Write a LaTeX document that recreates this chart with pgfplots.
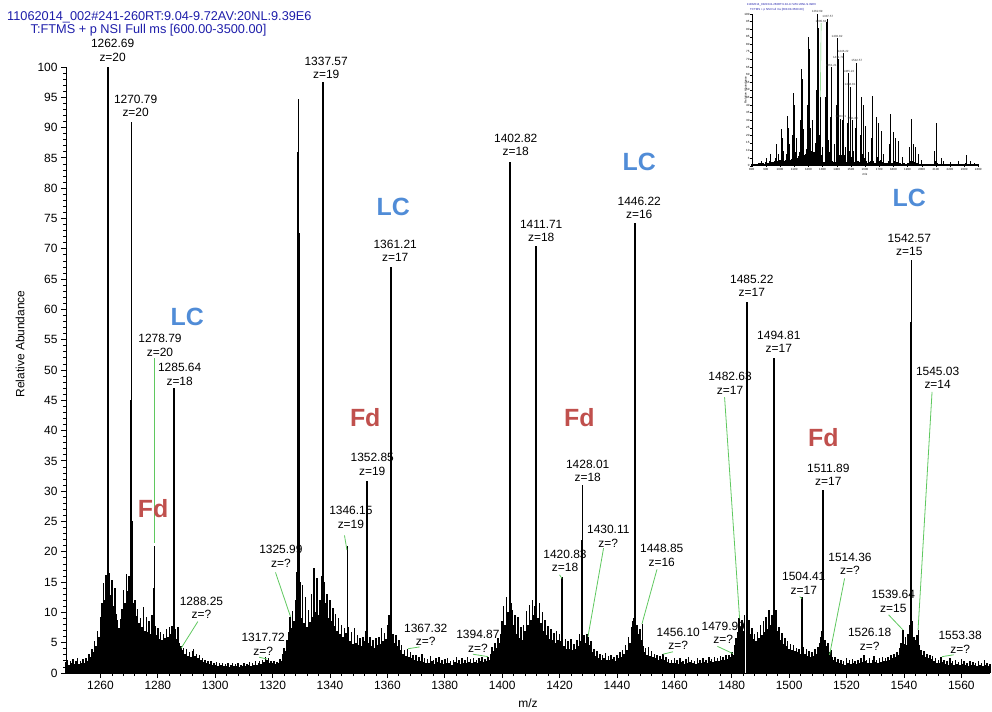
\documentclass[border=0pt]{standalone}
\usepackage{pgfplots}
\pgfplotsset{compat=1.18}
\usepackage{fontspec}
\setmainfont{Liberation Sans}
\definecolor{hdrblue}{RGB}{30,30,170}
\definecolor{lcblue}{RGB}{80,140,215}
\definecolor{fdred}{RGB}{192,80,77}
\definecolor{lgreen}{RGB}{95,200,95}
\tikzset{
 lab/.style={font=\fontsize{12}{13.5}\selectfont, align=center, anchor=south, inner sep=0pt},
 lc/.style={font=\bfseries\fontsize{25}{25}\selectfont, text=lcblue, inner sep=0pt},
 fd/.style={font=\bfseries\fontsize{25}{25}\selectfont, text=fdred, inner sep=0pt},
 gl/.style={draw=lgreen, line width=0.8bp},
 ilab/.style={font=\fontsize{3}{3.4}\selectfont, anchor=south, inner sep=0pt, text=black!80},
}
\begin{document}
\begin{tikzpicture}[x=1bp,y=1bp]
\useasboundingbox (0,0) rectangle (992,712);
\node[anchor=base west, text=hdrblue, font=\fontsize{12.8}{14}\selectfont, inner sep=0] at (7,691.5) {11062014\_002\#241-260RT:9.04-9.72AV:20NL:9.39E6};
\node[anchor=base west, text=hdrblue, font=\fontsize{12.8}{14}\selectfont, inner sep=0] at (30.5,678) {T:FTMS + p NSI Full ms [600.00-3500.00]};

\begin{axis}[
 at={(66bp,39bp)}, anchor=south west, scale only axis,
 width=924bp, height=606bp,
 xmin=1248, xmax=1570, ymin=0, ymax=100,
 axis x line*=bottom, axis y line*=left,
 axis line style={line width=0.8bp},
 xtick={1260,1280,...,1560}, minor x tick num=4,
 ytick={0,5,...,100}, minor y tick num=4,
 tick align=outside, major tick length=5bp, minor tick length=3bp,
 tick style={black, line width=0.8bp},
 tick label style={font=\fontsize{12}{14}\selectfont, /pgf/number format/assume math mode=true},
 xticklabel style={/pgf/number format/1000 sep={}},
 xlabel={m/z}, ylabel={Relative Abundance},
 every axis x label/.style={at={(axis description cs:0.5,-0.0495)}, anchor=center, font=\fontsize{12}{14}\selectfont},
 every axis y label/.style={at={(axis description cs:-0.0498,0.543)}, anchor=center, rotate=90, font=\fontsize{12}{14}\selectfont},
 clip=false,
]
% noise / unresolved background
\addplot[ycomb, black, line width=1.5bp, mark=none] coordinates {
(1248.0,1.8)(1248.5,2.2)(1249.0,1.4)(1249.5,2.0)(1250.0,1.6)(1250.5,2.3)(1251.0,1.5)(1251.5,1.9)(1252.0,2.4)(1252.5,1.5)(1253.0,2.0)(1253.5,1.7)(1254.0,2.3)(1254.5,1.6)(1255.0,2.5)(1255.5,1.9)
(1256.0,3.2)(1256.5,2.6)(1257.0,4.0)(1257.5,3.4)(1258.0,5.2)(1258.5,4.4)(1259.0,7.0)(1259.5,6.0)(1260.0,9.3)
(1260.5,11.5)(1261.0,14.8)(1261.5,12.0)(1262.0,16.2)(1262.5,13.0)(1263.0,16.5)(1263.5,12.8)(1264.0,15.3)(1264.5,11.0)(1265.0,14.0)(1265.5,9.8)
(1266.0,8.7)(1266.5,7.4)(1267.0,8.9)(1267.5,10.5)
(1268.0,13.7)(1268.5,11.6)(1269.0,16.4)(1269.5,13.5)(1270.0,16.0)(1270.5,12.8)(1271.0,15.2)(1271.5,11.5)
(1272.0,12.0)(1272.5,9.4)(1273.0,10.5)(1273.5,8.2)(1274.0,9.0)
(1274.5,7.6)(1275.0,10.9)(1275.5,7.0)(1276.0,9.2)(1276.5,6.8)(1277.0,8.5)(1277.5,6.4)(1278.0,9.6)(1278.5,7.2)
(1279.0,7.8)(1279.5,6.2)(1280.0,7.4)(1280.5,5.6)(1281.0,6.8)(1281.5,5.4)(1282.0,6.5)
(1282.5,5.8)(1283.0,7.2)(1283.5,6.0)(1284.0,7.6)(1284.5,6.4)(1285.0,7.8)(1285.5,9.0)
(1286.0,7.2)(1286.5,5.6)(1287.0,7.6)(1287.5,5.0)(1288.0,4.4)(1288.5,3.8)
(1289.0,4.2)(1289.5,3.2)(1290.0,3.9)(1290.5,2.8)(1291.0,3.4)(1291.5,2.6)(1292.0,3.6)(1292.5,3.9)(1293.0,2.8)(1293.5,3.2)(1294.0,2.4)(1294.5,2.9)(1295.0,2.2)
(1295.5,2.4)(1296.0,1.8)(1296.5,2.2)(1297.0,1.6)(1297.5,2.0)(1298.0,1.5)(1298.5,1.9)(1299.0,1.3)(1299.5,1.7)(1300.0,1.4)(1300.5,1.8)(1301.0,1.2)(1301.5,1.6)(1302.0,1.3)(1302.5,1.7)(1303.0,1.1)(1303.5,1.5)(1304.0,1.2)(1304.5,1.6)(1305.0,1.0)(1305.5,1.4)(1306.0,1.7)(1306.5,1.1)(1307.0,1.5)(1307.5,1.2)(1308.0,1.6)(1308.5,1.0)(1309.0,1.4)(1309.5,1.2)(1310.0,1.7)(1310.5,1.1)(1311.0,1.5)(1311.5,1.3)(1312.0,1.8)(1312.5,1.2)(1313.0,1.6)(1313.5,1.4)(1314.0,1.9)(1314.5,1.3)(1315.0,1.7)(1315.5,2.0)(1316.0,1.5)(1316.5,2.2)
(1317.0,1.8)(1317.5,2.7)(1318.0,2.1)(1318.5,2.5)(1319.0,1.7)(1319.5,2.0)(1320.0,1.6)(1320.5,1.9)(1321.0,1.5)(1321.5,1.8)
(1322.0,1.7)(1322.5,2.3)(1323.0,2.0)(1323.5,3.2)(1324.0,4.2)(1324.5,3.6)(1325.0,5.5)(1325.5,6.8)(1326.0,9.3)(1326.5,7.4)(1327.0,10.2)(1327.5,8.6)(1328.0,12.0)(1328.5,16.7)
(1329.5,15.0)(1330.0,9.0)(1330.5,14.5)(1331.0,8.2)(1331.5,12.6)(1332.0,7.6)(1332.5,10.4)(1333.0,8.4)(1333.5,13.0)(1334.0,9.2)(1334.5,17.3)(1335.0,10.0)(1335.5,15.6)(1336.0,9.6)(1336.5,12.0)(1337.0,16.0)
(1338.0,15.0)(1338.5,11.5)(1339.0,13.0)(1339.5,9.0)(1340.0,12.0)(1340.5,8.6)(1341.0,10.8)(1341.5,7.8)(1342.0,9.8)(1342.5,7.0)(1343.0,9.0)(1343.5,6.4)(1344.0,8.0)(1344.5,6.0)(1345.0,7.4)(1345.5,6.6)
(1346.5,7.6)(1347.0,5.2)(1347.5,6.8)(1348.0,4.8)(1348.5,7.4)(1349.0,5.0)(1349.5,6.2)(1350.0,4.6)(1350.5,5.8)(1351.0,4.4)(1351.5,6.0)(1352.0,5.2)(1352.5,7.0)
(1353.0,6.8)(1353.5,5.0)(1354.0,6.0)(1354.5,4.4)(1355.0,5.4)(1355.5,4.2)(1356.0,5.8)(1356.5,4.6)(1357.0,6.0)(1357.5,4.8)(1358.0,7.4)(1358.5,5.2)(1359.0,6.6)(1359.5,5.6)(1360.0,8.0)(1360.5,9.6)
(1361.5,8.6)(1362.0,6.5)(1362.5,5.0)(1363.0,6.2)(1363.5,4.4)(1364.0,5.4)(1364.5,3.8)(1365.0,4.6)(1365.5,3.2)(1366.0,3.8)(1366.5,2.8)(1367.0,4.0)(1367.5,2.6)
(1368.0,3.4)(1368.5,2.4)(1369.0,3.0)(1369.5,2.2)(1370.0,2.9)(1370.5,1.9)(1371.0,2.6)(1371.5,2.0)(1372.0,3.2)(1372.5,1.8)(1373.0,2.5)(1373.5,1.7)(1374.0,2.3)(1374.5,1.6)(1375.0,2.8)(1375.5,1.9)(1376.0,2.2)(1376.5,1.5)(1377.0,2.4)(1377.5,1.8)(1378.0,2.6)(1378.5,1.6)(1379.0,2.1)(1379.5,1.5)(1380.0,2.3)(1380.5,1.7)(1381.0,2.5)(1381.5,1.6)(1382.0,2.0)(1382.5,1.4)(1383.0,2.2)(1383.5,1.8)(1384.0,2.7)(1384.5,1.6)(1385.0,2.1)(1385.5,1.5)(1386.0,2.4)(1386.5,1.7)(1387.0,2.2)(1387.5,1.6)(1388.0,2.6)(1388.5,1.8)(1389.0,2.3)(1389.5,1.7)(1390.0,2.5)(1390.5,1.8)(1391.0,2.2)(1391.5,1.6)(1392.0,2.4)(1392.5,1.9)(1393.0,2.6)(1393.5,1.8)(1394.0,2.3)(1394.5,2.0)(1395.0,2.7)(1395.5,2.2)
(1396.0,3.2)(1396.5,4.3)(1397.0,3.6)(1397.5,5.0)(1398.0,4.2)(1398.5,5.8)(1399.0,5.0)(1399.5,6.5)
(1400.0,8.6)(1400.5,11.0)(1401.0,8.0)(1401.5,12.6)(1402.0,10.0)(1402.5,12.0)(1403.0,11.5)(1403.5,10.4)(1404.0,8.0)(1404.5,9.6)(1405.0,6.4)(1405.5,9.3)(1406.0,5.8)(1406.5,7.6)(1407.0,5.4)(1407.5,8.0)
(1408.0,7.0)(1408.5,10.2)(1409.0,8.0)(1409.5,11.2)(1410.0,8.8)(1410.5,12.0)(1411.0,9.6)(1411.5,11.0)(1412.0,12.4)(1412.5,9.0)(1413.0,11.6)(1413.5,8.2)(1414.0,10.0)
(1414.5,7.0)(1415.0,8.7)(1415.5,6.2)(1416.0,7.8)(1416.5,5.6)(1417.0,7.2)(1417.5,5.4)(1418.0,6.6)(1418.5,5.0)(1419.0,7.0)(1419.5,5.4)(1420.0,6.4)(1420.5,5.2)
(1421.0,6.0)(1421.5,4.4)(1422.0,5.6)(1422.5,3.9)(1423.0,5.2)(1423.5,4.0)(1424.0,5.6)(1424.5,3.8)(1425.0,4.8)(1425.5,4.0)(1426.0,5.4)(1426.5,4.4)(1427.0,6.5)(1427.5,5.2)
(1428.5,6.2)(1429.0,5.0)(1429.5,6.4)(1430.0,6.0)(1430.5,4.6)(1431.0,5.2)
(1431.5,3.4)(1432.0,4.0)(1432.5,2.8)(1433.0,3.6)(1433.5,2.4)(1434.0,3.2)(1434.5,2.2)(1435.0,3.0)(1435.5,2.4)(1436.0,3.3)(1436.5,2.1)(1437.0,2.8)(1437.5,2.2)(1438.0,3.0)(1438.5,2.3)(1439.0,2.7)(1439.5,2.0)(1440.0,2.9)(1440.5,2.4)(1441.0,3.4)(1441.5,2.6)(1442.0,3.8)
(1442.5,3.2)(1443.0,4.6)(1443.5,3.8)(1444.0,6.0)(1444.5,5.0)(1445.0,7.6)(1445.5,8.5)(1446.0,9.0)(1446.5,10.0)(1447.0,8.0)(1447.5,6.4)(1448.0,7.2)(1448.5,5.4)
(1449.0,4.4)(1449.5,3.4)(1450.0,4.2)(1450.5,3.0)(1451.0,4.3)(1451.5,2.8)(1452.0,3.6)(1452.5,2.7)(1453.0,3.2)(1453.5,2.4)(1454.0,3.0)(1454.5,2.2)(1455.0,2.8)(1455.5,2.3)(1456.0,3.2)(1456.5,2.2)
(1457.0,2.6)(1457.5,1.8)(1458.0,2.3)(1458.5,1.6)(1459.0,2.2)(1459.5,1.7)(1460.0,2.5)(1460.5,1.6)(1461.0,2.1)(1461.5,1.5)(1462.0,2.4)(1462.5,1.8)(1463.0,2.0)(1463.5,1.5)(1464.0,2.3)(1464.5,1.7)(1465.0,2.6)(1465.5,1.8)(1466.0,2.2)(1466.5,1.6)(1467.0,2.0)(1467.5,1.5)(1468.0,2.4)(1468.5,1.7)(1469.0,2.1)(1469.5,1.6)(1470.0,2.5)(1470.5,1.8)(1471.0,2.2)(1471.5,1.7)(1472.0,2.6)(1472.5,1.9)(1473.0,2.3)(1473.5,1.8)(1474.0,2.7)(1474.5,2.0)(1475.0,2.5)(1475.5,1.9)(1476.0,2.8)(1476.5,2.1)(1477.0,2.6)(1477.5,2.2)(1478.0,2.9)(1478.5,2.3)(1479.0,3.0)(1479.5,2.6)(1480.0,3.4)(1480.5,3.0)
(1481.0,4.6)(1481.5,5.8)(1482.0,6.8)(1482.5,9.0)(1483.0,7.6)(1483.5,8.7)(1484.0,7.0)(1484.5,9.6)
(1485.5,9.0)(1486.0,8.7)(1486.5,6.4)(1487.0,7.4)(1487.5,5.6)(1488.0,6.5)(1488.5,5.2)(1489.0,6.8)(1489.5,5.8)(1490.0,8.0)(1490.5,6.2)(1491.0,8.5)(1491.5,6.8)(1492.0,9.3)(1492.5,7.2)(1493.0,10.4)(1493.5,8.0)(1494.0,9.5)
(1495.0,9.0)(1495.5,10.4)(1496.0,7.0)(1496.5,7.6)(1497.0,5.4)(1497.5,6.6)(1498.0,4.8)(1498.5,5.8)(1499.0,4.4)(1499.5,5.2)(1500.0,4.0)(1500.5,4.8)(1501.0,3.8)(1501.5,4.6)(1502.0,3.6)(1502.5,4.2)(1503.0,3.4)(1503.5,4.0)(1504.0,3.2)
(1505.0,4.3)(1505.5,3.2)(1506.0,4.0)(1506.5,2.8)(1507.0,3.6)(1507.5,2.7)(1508.0,3.4)(1508.5,2.8)(1509.0,4.0)(1509.5,3.2)(1510.0,4.3)(1510.5,5.0)(1511.0,6.0)(1511.5,7.0)
(1512.5,5.4)(1513.0,4.4)(1513.5,5.0)(1514.0,3.4)(1514.5,3.8)(1515.0,2.7)
(1515.5,2.2)(1516.0,2.6)(1516.5,1.8)(1517.0,2.3)(1517.5,1.6)(1518.0,2.2)(1518.5,1.5)(1519.0,2.0)(1519.5,1.4)(1520.0,2.4)(1520.5,1.7)(1521.0,2.1)(1521.5,1.5)(1522.0,2.3)(1522.5,1.6)(1523.0,2.0)(1523.5,1.5)(1524.0,2.2)(1524.5,1.7)(1525.0,2.4)(1525.5,1.8)(1526.0,3.0)(1526.5,1.9)(1527.0,2.2)(1527.5,1.6)(1528.0,2.5)(1528.5,1.7)(1529.0,2.1)(1529.5,2.8)(1530.0,1.8)(1530.5,2.2)(1531.0,1.6)(1531.5,2.4)(1532.0,1.8)(1532.5,2.6)(1533.0,1.9)(1533.5,2.4)(1534.0,2.0)(1534.5,2.7)(1535.0,2.2)(1535.5,2.9)(1536.0,2.4)(1536.5,3.2)(1537.0,2.6)(1537.5,3.4)(1538.0,3.0)(1538.5,4.2)
(1539.0,5.0)(1540.0,4.8)(1540.5,6.0)(1541.0,4.6)(1541.5,6.5)(1542.0,8.0)(1543.0,8.5)(1543.5,6.0)(1544.0,5.4)(1544.5,6.2)(1545.5,4.6)(1546.0,3.8)(1546.5,3.0)(1547.0,3.6)(1547.5,2.6)(1548.0,3.2)(1548.5,2.5)(1549.0,3.0)(1549.5,2.3)(1550.0,2.8)(1550.5,2.0)
(1551.0,2.4)(1551.5,1.7)(1552.0,2.2)(1552.5,1.6)(1553.0,2.7)(1553.5,1.8)(1554.0,2.1)(1554.5,1.5)(1555.0,2.0)(1555.5,1.4)(1556.0,2.4)(1556.5,1.6)(1557.0,1.9)(1557.5,1.4)(1558.0,2.2)(1558.5,1.5)(1559.0,1.8)(1559.5,1.3)(1560.0,2.3)(1560.5,1.5)(1561.0,1.9)(1561.5,1.3)(1562.0,1.7)(1562.5,1.2)(1563.0,2.0)(1563.5,1.4)(1564.0,1.8)(1564.5,1.3)(1565.0,1.6)(1565.5,1.2)(1566.0,1.9)(1566.5,1.4)(1567.0,1.7)(1567.5,1.2)(1568.0,2.1)(1568.5,1.4)(1569.0,1.6)(1569.5,1.2)(1570.0,1.5)
};
% resolved peaks
\addplot[ycomb, black, line width=1.6bp, mark=none] coordinates {
(1262.55,54)(1262.69,100)(1262.80,30)
(1270.65,45)(1270.79,91)(1270.90,25)
(1278.70,14)(1278.79,21)
(1285.50,35)(1285.64,47)(1285.75,20)
(1328.78,46.7)(1328.88,86)(1329.00,94.7)(1329.10,72.6)
(1337.45,81.7)(1337.57,97.5)(1337.68,46.7)
(1346.05,15)(1346.15,21)
(1352.75,23.8)(1352.85,31.7)
(1361.10,49.8)(1361.21,67)(1361.30,33.6)
(1402.60,35)(1402.70,72.8)(1402.82,84.4)(1402.90,66)
(1411.60,46)(1411.71,70.5)(1411.80,30)
(1420.83,15.8)
(1427.90,22)(1428.01,31)
(1446.10,50)(1446.22,74.3)(1446.32,22)
(1448.85,8.1)
(1485.10,40)(1485.22,61.2)(1485.30,12.6)
(1494.70,35)(1494.81,52)(1494.90,20)
(1504.41,12.5)
(1511.80,20)(1511.89,30.2)
(1539.64,7.1)
(1542.45,58)(1542.57,68.2)(1542.65,46)
(1545.03,7.1)
};
% peak labels
\node[lab] at (axis cs:1264.25,100.9) {1262.69\\z=20};
\node[lab] at (axis cs:1272.27,91.7) {1270.79\\z=20};
\node[lab] at (axis cs:1280.75,52.2) {1278.79\\z=20};
\node[lab] at (axis cs:1287.61,47.4) {1285.64\\z=18};
\node[lab] at (axis cs:1295.2,8.9) {1288.25\\z=?};
\node[lab] at (axis cs:1316.72,2.9) {1317.72\\z=?};
\node[lab] at (axis cs:1322.88,17.4) {1325.99\\z=?};
\node[lab] at (axis cs:1338.67,98.0) {1337.57\\z=19};
\node[lab] at (axis cs:1347.28,23.8) {1346.15\\z=19};
\node[lab] at (axis cs:1354.71,32.6) {1352.85\\z=19};
\node[lab] at (axis cs:1362.72,67.8) {1361.21\\z=17};
\node[lab] at (axis cs:1373.36,4.5) {1367.32\\z=?};
\node[lab] at (axis cs:1391.55,3.4) {1394.87\\z=?};
\node[lab] at (axis cs:1404.73,85.3) {1402.82\\z=18};
\node[lab] at (axis cs:1413.6,71.1) {1411.71\\z=18};
\node[lab] at (axis cs:1421.9,16.7) {1420.83\\z=18};
\node[lab] at (axis cs:1429.8,31.5) {1428.01\\z=18};
\node[lab] at (axis cs:1436.97,20.7) {1430.11\\z=?};
\node[lab] at (axis cs:1447.77,74.9) {1446.22\\z=16};
\node[lab] at (axis cs:1455.61,17.6) {1448.85\\z=16};
\node[lab] at (axis cs:1461.36,3.8) {1456.10\\z=?};
\node[lab] at (axis cs:1477.05,4.8) {1479.99\\z=?};
\node[lab] at (axis cs:1479.42,46.0) {1482.63\\z=17};
\node[lab] at (axis cs:1486.99,62.1) {1485.22\\z=17};
\node[lab] at (axis cs:1496.4,52.8) {1494.81\\z=17};
\node[lab] at (axis cs:1505.1,13.0) {1504.41\\z=17};
\node[lab] at (axis cs:1513.65,30.9) {1511.89\\z=17};
\node[lab] at (axis cs:1521.2,16.2) {1514.36\\z=?};
\node[lab] at (axis cs:1528.05,3.7) {1526.18\\z=?};
\node[lab] at (axis cs:1536.3,10.0) {1539.64\\z=15};
\node[lab] at (axis cs:1541.88,68.8) {1542.57\\z=15};
\node[lab] at (axis cs:1551.75,46.9) {1545.03\\z=14};
\node[lab] at (axis cs:1559.59,3.25) {1553.38\\z=?};
% leader lines
\draw[gl] (axis cs:1278.79,51.9) -- (axis cs:1278.79,21.4);
\draw[gl] (axis cs:1293.96,8.5) -- (axis cs:1288.13,4.1);
\draw[gl] (axis cs:1315.32,2.6) -- (axis cs:1318.11,2.3);
\draw[gl] (axis cs:1321.0,16.6) -- (axis cs:1326.23,9.3);
\draw[gl] (axis cs:1345.05,22.7) -- (axis cs:1345.89,20.3);
\draw[gl] (axis cs:1371.2,4.3) -- (axis cs:1367.15,4.0);
\draw[gl] (axis cs:1389.8,3.1) -- (axis cs:1395.04,2.7);
\draw[gl] (axis cs:1420.0,16.2) -- (axis cs:1420.83,15.6);
\draw[gl] (axis cs:1435.33,20.6) -- (axis cs:1429.9,6.0);
\draw[gl] (axis cs:1453.94,17.1) -- (axis cs:1448.71,8.1);
\draw[gl] (axis cs:1459.52,3.5) -- (axis cs:1456.03,3.1);
\draw[gl] (axis cs:1475.0,4.4) -- (axis cs:1480.43,3.2);
\draw[gl] (axis cs:1477.5,45.5) -- (axis cs:1482.73,9.0);
\draw[gl] (axis cs:1503.65,12.6) -- (axis cs:1504.48,12.3);
\draw[gl] (axis cs:1519.32,15.6) -- (axis cs:1514.09,3.0);
\draw[gl] (axis cs:1534.66,9.6) -- (axis cs:1539.68,7.1);
\draw[gl] (axis cs:1549.8,46.4) -- (axis cs:1544.92,7.1);
\draw[gl] (axis cs:1557.32,3.0) -- (axis cs:1553.28,2.7);
% LC / Fd tags
\node[lc] at (axis cs:1290.23,58.75) {LC};
\node[lc] at (axis cs:1362.03,76.9) {LC};
\node[lc] at (axis cs:1447.77,84.3) {LC};
\node[lc] at (axis cs:1541.88,78.4) {LC};
\node[fd] at (axis cs:1278.37,27.2) {Fd};
\node[fd] at (axis cs:1352.27,42.2) {Fd};
\node[fd] at (axis cs:1426.86,42.2) {Fd};
\node[fd] at (axis cs:1511.91,38.9) {Fd};
\end{axis}

% inset: full spectrum
\node[anchor=base west, text=hdrblue, font=\fontsize{2.9}{3.2}\selectfont, inner sep=0] at (746.7,706) {11062014\_002\#241-260RT:9.04-9.72AV:20NL:9.39E6};
\node[anchor=base west, text=hdrblue, font=\fontsize{2.9}{3.2}\selectfont, inner sep=0] at (750,701.5) {T:FTMS + p NSI Full ms [600.00-3500.00]};
\begin{axis}[
 at={(751.7bp,546.3bp)}, anchor=south west, scale only axis,
 width=226.6bp, height=151.7bp,
 xmin=800, xmax=2400, ymin=0, ymax=100,
 axis x line*=bottom, axis y line*=left,
 axis line style={line width=0.4bp},
 xtick={800,900,...,2400}, ytick={0,5,...,100},
 tick align=outside, major tick length=1.5bp,
 tick style={black, line width=0.3bp},
 tick label style={font=\fontsize{3}{3.4}\selectfont, /pgf/number format/assume math mode=true, inner sep=0.6pt},
 xticklabel style={/pgf/number format/1000 sep={}},
 xlabel={m/z}, ylabel={Relative Abundance},
 every axis x label/.style={at={(axis description cs:0.5,-0.055)}, anchor=center, font=\fontsize{3}{3.4}\selectfont},
 every axis y label/.style={at={(axis description cs:-0.027,0.5)}, anchor=center, rotate=90, font=\fontsize{3}{3.4}\selectfont},
 clip=false,
]
\addplot[ycomb, black, line width=1.5bp, mark=none] coordinates {
(800,1.0)(810,0.8)(820,1.2)(830,0.9)(840,1.4)(850,1.1)(860,1.5)(870,1.2)(880,1.8)(890,1.4)(900,2.5)(910,1.6)(920,2.0)(930,3.0)(940,2.2)(950,2.4)(960,3.2)(970,5.0)(980,3.0)(990,2.8)
(1000,4.0)(1010,7.0)(1020,5.0)(1030,3.2)(1040,4.0)(1050,8.0)(1060,7.0)(1070,4.0)(1080,4.4)(1090,7.0)(1100,12.0)(1110,9.0)(1120,5.0)(1130,6.4)(1140,9.0)(1150,15.0)(1160,12.0)(1170,7.0)(1180,7.4)(1190,11.0)
(1200,17.0)(1210,17.0)(1220,10.0)(1230,8.0)(1240,9.0)(1250,15.0)(1260,18.0)(1270,18.0)(1280,11.0)(1290,7.0)(1300,3.0)(1310,2.4)(1320,7.0)(1330,16.0)(1340,17.0)(1350,9.0)(1360,9.0)(1370,3.0)(1380,2.2)(1390,2.4)
(1400,13.0)(1410,14.0)(1420,7.0)(1430,7.0)(1440,3.0)(1450,7.0)(1460,2.4)(1470,2.2)(1480,7.0)(1490,10.0)(1500,6.0)(1510,5.0)(1520,2.0)(1530,2.2)(1540,7.0)(1550,3.0)(1560,2.2)(1570,4.0)(1580,8.0)(1590,7.0)
(1600,5.0)(1610,3.0)(1620,2.0)(1630,2.2)(1640,3.0)(1650,7.0)(1660,3.0)(1670,2.0)(1680,5.0)(1690,6.0)(1700,3.0)(1710,4.0)(1720,2.2)(1730,1.8)(1740,2.0)(1750,1.6)(1760,2.0)(1770,3.0)(1780,4.0)(1790,2.0)
(1800,3.0)(1810,3.4)(1820,2.4)(1830,2.6)(1840,2.0)(1850,1.6)(1860,1.4)(1870,1.8)(1880,1.5)(1890,1.4)(1900,1.8)(1910,1.5)(1920,3.0)(1930,3.4)(1940,2.4)(1950,2.2)(1960,1.6)(1970,1.8)(1980,1.4)(1990,1.2)
(2000,1.4)(2010,1.2)(2020,1.0)(2030,1.3)(2040,1.0)(2050,1.2)(2060,1.0)(2070,1.1)(2080,1.3)(2090,1.6)(2100,3.0)(2110,1.6)(2120,1.2)(2130,1.0)(2140,1.8)(2150,1.0)(2160,0.9)(2170,1.1)(2180,0.9)(2190,1.0)
(2200,1.2)(2210,0.9)(2220,1.0)(2230,0.8)(2240,1.1)(2250,0.9)(2260,1.0)(2270,0.8)(2280,1.0)(2290,0.9)(2300,1.4)(2310,2.0)(2320,1.2)(2330,0.9)(2340,1.0)(2350,0.8)(2360,0.9)(2370,0.8)(2380,1.0)(2390,0.8)(2400,0.9)
};
\addplot[ycomb, black, line width=0.6bp, mark=none] coordinates {
(985,8)(1025,10)(1065,14)(1090,20)(1112,18)(1140,30)(1165,24)(1195,40)(1225,30)(1255,50)(1300,12)(1320,45)
(1380,14)(1395,40)(1437,30)(1460,12)(1475,28)(1520,10)(1533,25)(1570,20)(1620,9)(1643,18)(1730,8)(1770,14)
(1860,6)(1915,12)(2000,4)(2090,10)(2150,3)(2200,2.5)(2260,3)(2340,3)(2370,2)
};
\addplot[ycomb, black, line width=0.9bp, mark=none] coordinates {
(848,1.5)(870,3)(902.2,5)(935.6,8)(971.5,14)(1010.4,24)(1016.8,18)(1052.4,33)(1059.2,25)
(1098.1,48)(1105.1,40)(1149.0,64)(1155.3,57)(1157.2,20)(1202.6,85)(1210.3,77)(1218.0,25)
(1262.69,100)(1270.79,91)(1278.8,20)(1285.6,45)(1329.1,95)(1337.6,97)(1352.9,32)(1361.2,65)
(1402.8,84)(1411.9,70)(1428.0,31)(1446.2,74)(1485.3,61)(1494.9,52)(1511.9,30)(1542.6,68)
(1578.1,45)(1588.2,40)(1606.3,26)(1652.7,46)(1683.3,32)(1694.1,28)(1713.3,23)(1779.7,34)
(1803.4,22)(1815.0,18)(1835.6,16)(1928.0,31)(1942.0,14)(1954.5,12)(1976.8,8)(2103.5,28)
(2141.4,5)(2313.3,7)
};
\draw[draw=lgreen, line width=0.4bp] (axis cs:1290,94) -- (axis cs:1285.6,45);
\node[ilab] at (axis cs:1262.69,100.5) {1262.69};
\node[ilab] at (axis cs:1337.6,97.5) {1337.57};
\node[ilab] at (axis cs:1290,94.5) {1285.64};
\node[ilab] at (axis cs:1402.8,84.5) {1402.82};
\node[ilab] at (axis cs:1411.9,70.5) {1411.71};
\node[ilab] at (axis cs:1446.2,74.5) {1446.22};
\node[ilab] at (axis cs:1361.2,65.5) {1361.21};
\node[ilab] at (axis cs:1542.6,68.5) {1542.57};
\node[ilab] at (axis cs:1485.3,61.5) {1485.22};
\node[ilab] at (axis cs:1494.9,52.5) {1494.81};
\node[ilab] at (axis cs:1428.0,31.5) {1428.01};
\node[ilab] at (axis cs:1511.9,30.5) {1511.89};
\end{axis}
\end{tikzpicture}
\end{document}
